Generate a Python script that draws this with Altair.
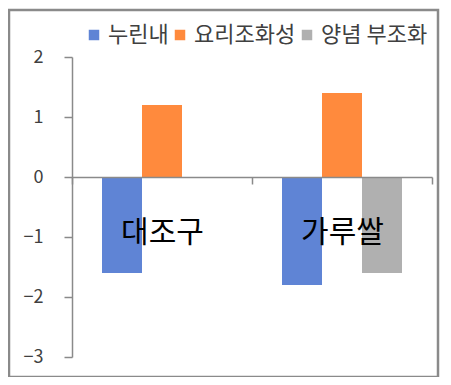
import altair as alt
import pandas as pd

categories = ["대조구", "가루쌀"]
series = ["누린내", "요리조화성", "양념 부조화"]
values_nurinnae = [-1.6, -1.8]
values_yori = [1.2, 1.4]
values_yangnyeom = [0.0, -1.6]
colors = ["#5F84D5", "#FF8A3D", "#B0B0B0"]
y_ticks = [-3, -2, -1, 0, 1, 2]

rows = []
for s, vals in zip(series, [values_nurinnae, values_yori, values_yangnyeom]):
    for c, v in zip(categories, vals):
        rows.append({"cat": c, "series": s, "value": v})
df = pd.DataFrame(rows)

FONT = "Noto Sans CJK KR"

bars = alt.Chart(df).mark_bar(strokeWidth=0).encode(
    x=alt.X("cat:N", sort=categories,
            scale=alt.Scale(paddingInner=0, paddingOuter=0),
            axis=alt.Axis(title=None, orient="bottom", offset=-180, tickBand="extent",
                          domainColor="#8a8a8a", domainWidth=1.5, tickColor="#8a8a8a",
                          tickWidth=1.5, tickSize=7, labelFontSize=30, labelFont=FONT,
                          labelColor="#000000", labelPadding=33, labelAngle=0, zindex=1)),
    xOffset=alt.XOffset("series:N", sort=series,
                        scale=alt.Scale(domain=series, paddingInner=0, paddingOuter=0.75)),
    y=alt.Y("value:Q", scale=alt.Scale(domain=[-3, 2], nice=False, zero=False),
            axis=alt.Axis(title=None, values=y_ticks, grid=False, domainColor="#8a8a8a",
                          domainWidth=1.5, tickColor="#8a8a8a", tickWidth=1.5, tickSize=8,
                          labelFontSize=18, labelFont=FONT, labelColor="#404040",
                          labelPadding=21)),
    color=alt.Color("series:N", sort=series,
                    scale=alt.Scale(domain=series, range=colors),
                    legend=alt.Legend(title=None, orient="none", legendX=11, legendY=-33,
                                      direction="horizontal", symbolType="square",
                                      symbolSize=110, symbolStrokeWidth=0,
                                      labelFontSize=22, labelFont=FONT, labelColor="#404040",
                                      labelOffset=3, columnPadding=0, padding=0)),
)

border = alt.Chart(pd.DataFrame({"a": [0]})).mark_rect(
    fill="transparent", stroke="#8a8a8a", strokeWidth=2.5
).encode(x=alt.value(-63), x2=alt.value(366), y=alt.value(-47), y2=alt.value(320))

chart = alt.layer(bars, border).properties(
    width=360, height=300,
    padding={"left": 64, "top": 49, "right": 11, "bottom": 20},
    autosize=alt.AutoSizeParams(type="none"),
).configure_view(stroke=None)

chart.save("out.html", embed_options={"renderer": "svg", "actions": False})
